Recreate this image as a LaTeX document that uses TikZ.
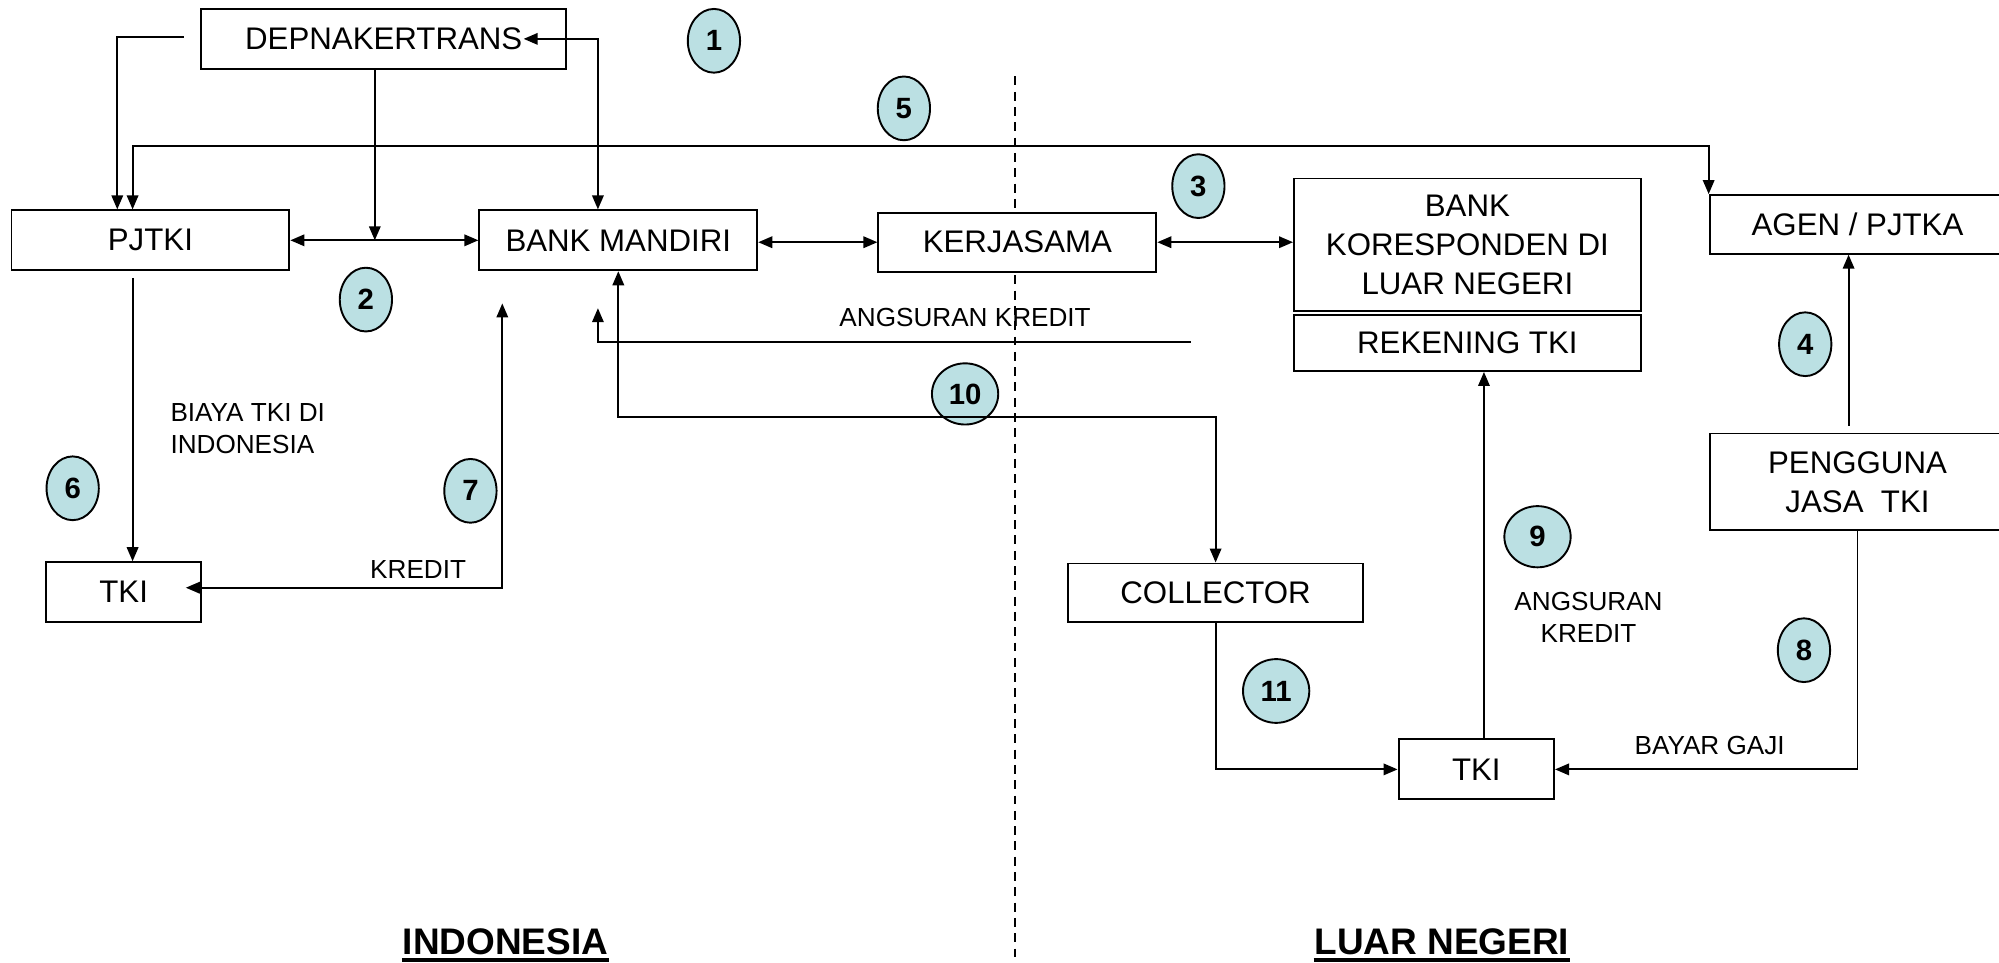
\documentclass[tikz,border=0pt]{standalone}
\usepackage{fontspec}
\setmainfont{Liberation Sans}
\usetikzlibrary{arrows.meta,shapes.geometric}
\definecolor{numfill}{RGB}{187,224,227}
\begin{document}
\begin{tikzpicture}[x=1bp,y=-1bp, line width=1.5bp,
  box/.style={draw, fill=white, inner sep=0pt, font=\fontsize{24.5bp}{30.5bp}\selectfont, align=center},
  num/.style={ellipse, draw, fill=numfill, minimum width=41bp, minimum height=50bp, inner sep=0pt, font=\fontsize{23bp}{26bp}\selectfont\bfseries},
  lbl/.style={font=\fontsize{20.5bp}{25bp}\selectfont, inner sep=0pt, align=center},
  arr/.style={-{Triangle[length=11bp,width=9bp]}},
  darr/.style={{Triangle[length=11bp,width=9bp]}-{Triangle[length=11bp,width=9bp]}},
  region/.style={font=\fontsize{29bp}{32bp}\selectfont\bfseries, inner sep=0pt}]
\useasboundingbox (0,0) rectangle (1568,755);
\clip (0,0) rectangle (1568,755);
% divider
\draw[line width=1.3bp, dash pattern=on 7bp off 5bp] (796,60) -- (796,755);
% boxes
\node[box, minimum width=286bp, minimum height=47bp] (dep) at (301,30.5) {DEPNAKERTRANS};
\node[box, minimum width=218bp, minimum height=47bp] (pjtki) at (118,188.5) {PJTKI};
\node[box, minimum width=218bp, minimum height=47bp] (bm) at (485,188.5) {BANK MANDIRI};
\node[box, minimum width=218bp, minimum height=46bp] (kerja) at (798,190) {KERJASAMA};
\node[box, minimum width=272bp, minimum height=104bp] (bk) at (1151,192) {BANK\\KORESPONDEN DI\\LUAR NEGERI};
\node[box, minimum width=272bp, minimum height=44bp] (rek) at (1151,269) {REKENING TKI};
\node[box, minimum width=232bp, minimum height=46bp] (agen) at (1457,176) {AGEN / PJTKA};
\node[box, minimum width=232bp, minimum height=76bp] (peng) at (1457,378) {PENGGUNA\\JASA\ \ TKI};
\node[box, minimum width=122bp, minimum height=47bp] (tkiL) at (97,464.5) {TKI};
\node[box, minimum width=231bp, minimum height=46bp] (coll) at (953.5,465) {COLLECTOR};
\node[box, minimum width=122bp, minimum height=47bp] (tkiR) at (1158,603.5) {TKI};
% numbered markers
\node[num] (n1) at (560,32) {1};
\node[num] (n5) at (709,85) {5};
\node[num] (n3) at (940,146) {3};
\node[num] (n2) at (287,235) {2};
\node[num] (n4) at (1416,270) {4};
\node[num, minimum width=52bp, minimum height=48bp] (n10) at (757,309) {10};
\node[num] (n6) at (57,383) {6};
\node[num] (n7) at (369,385) {7};
\node[num, minimum width=52bp, minimum height=48bp] (n9) at (1206,421) {9};
\node[num] (n8) at (1415,510) {8};
\node[num, minimum width=52bp, minimum height=50bp] (n11) at (1001,542) {11};
% labels
\node[lbl, anchor=west] (biaya) at (133,338) {\begin{tabular}{@{}l@{}}BIAYA TKI DI\\INDONESIA\end{tabular}};
\node[lbl] (kredit) at (328,447) {KREDIT};
\node[lbl] (ang1) at (757,249) {ANGSURAN KREDIT};
\node[lbl] (ang2) at (1246,484.5) {ANGSURAN\\KREDIT};
\node[lbl] (gaji) at (1341,585) {BAYAR GAJI};
\node[region, anchor=base] (ind) at (396.5,749) {INDONESIA};
\node[region, anchor=base] (ln) at (1131,749) {LUAR NEGERI};
\draw[line width=2.6bp] ([yshift=-4bp]ind.base west) -- ([yshift=-4bp]ind.base east);
\draw[line width=2.6bp] ([yshift=-4bp]ln.base west) -- ([yshift=-4bp]ln.base east);
% connectors
\coordinate (c1s) at (144,29);
\draw[arr] (c1s) -| ([xshift=-26bp]pjtki.north);
\draw[darr] ([xshift=-16bp]bm.north) |- ([xshift=-34bp]dep.east);
\coordinate (d2) at ([xshift=-7bp]dep.south);
\draw[arr] (d2) -- (d2 |- pjtki.east);
\draw[darr] (pjtki.east) -- (bm.west);
\draw[darr] ([xshift=-14bp]pjtki.north) -- ++(0,-50) -| (agen.north west);
\draw[darr] (bm.east |- kerja.west) -- (kerja.west);
\draw[darr] (kerja.east) -- (kerja.east -| bk.west);
\coordinate (p4s) at (1450,334);
\draw[arr] (p4s) -- (p4s |- agen.south);
\coordinate (p6s) at (104,218);
\draw[arr] (p6s) -- (p6s |- tkiL.north);
\coordinate (k7) at (394,238);
\draw[darr] (k7) |- ([xshift=-13bp,yshift=3.5bp]tkiL.east);
\coordinate (as1) at (934,268);
\draw[arr] (as1) -| ([xshift=-16bp,yshift=-29bp]bm.south);
\draw[darr] (bm.south) -- ++(0,114) -| (coll.north);
\draw[arr] (coll.south) |- (tkiR.west);
\coordinate (t9) at ([xshift=6bp]tkiR.north);
\draw[arr] (t9) -- (t9 |- rek.south);
\draw[arr] (peng.south) |- (tkiR.east);
\end{tikzpicture}
\end{document}
